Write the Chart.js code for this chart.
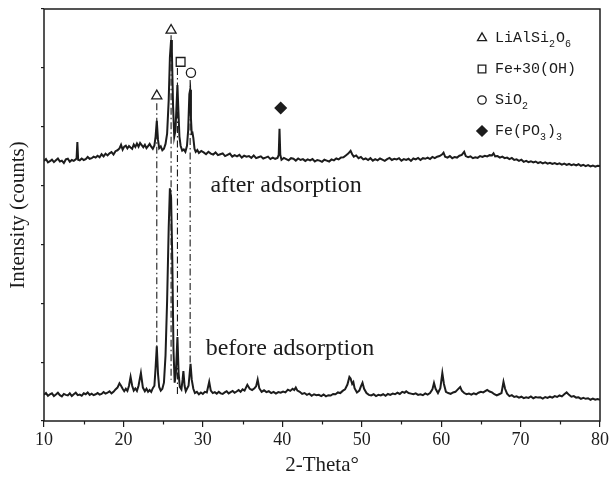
<!DOCTYPE html>
<html>
<head>
<meta charset="utf-8">
<script src="https://cdn.jsdelivr.net/npm/chart.js@4.4.1/dist/chart.umd.min.js"></script>
<style>
  html, body { margin: 0; padding: 0; background: #fff; }
  #wrap { width: 611px; height: 488px; }
</style>
</head>
<body>
<div id="wrap"><canvas id="xrd" width="611" height="488"></canvas></div>
<script>
// 2-theta positions and intensity (after adsorption)
const afterTheta = [
  10.0, 10.25, 10.5, 10.75, 11.0, 11.25, 11.5, 11.75, 12.0, 12.25, 12.5, 12.75, 13.0, 13.25, 13.5, 13.75,
  14.0, 14.1, 14.2, 14.3, 14.5, 14.75, 15.0, 15.25, 15.5, 15.75, 16.0, 16.25, 16.5, 16.75, 17.0, 17.25,
  17.5, 17.75, 18.0, 18.25, 18.5, 18.75, 19.0, 19.25, 19.5, 19.7, 19.9, 20.1, 20.3, 20.5, 20.7, 20.9,
  21.1, 21.3, 21.5, 21.7, 21.9, 22.1, 22.3, 22.5, 22.7, 22.9, 23.1, 23.3, 23.5, 23.7, 23.9, 24.05,
  24.2, 24.35, 24.5, 24.7, 24.9, 25.1, 25.3, 25.5, 25.7, 25.85, 26.0, 26.1, 26.25, 26.4, 26.55, 26.7,
  26.8, 26.9, 27.05, 27.2, 27.4, 27.6, 27.8, 28.0, 28.15, 28.3, 28.4, 28.5, 28.6, 28.7, 28.8, 28.95,
  29.1, 29.3, 29.5, 29.8, 30.1, 30.4, 30.7, 31.0, 31.3, 31.6, 31.9, 32.2, 32.5, 32.8, 33.1, 33.4,
  33.7, 34.0, 34.3, 34.6, 34.9, 35.2, 35.5, 35.8, 36.1, 36.4, 36.7, 37.0, 37.3, 37.6, 37.9, 38.2,
  38.5, 38.8, 39.1, 39.4, 39.55, 39.65, 39.75, 39.9, 40.2, 40.5, 40.8, 41.1, 41.4, 41.7, 42.0, 42.3,
  42.6, 42.9, 43.2, 43.5, 43.8, 44.1, 44.4, 44.7, 45.0, 45.3, 45.6, 45.9, 46.2, 46.5, 46.8, 47.1,
  47.4, 47.7, 48.0, 48.3, 48.6, 48.8, 49.0, 49.3, 49.6, 49.9, 50.2, 50.5, 50.8, 51.1, 51.4, 51.7,
  52.0, 52.3, 52.6, 52.9, 53.2, 53.5, 53.8, 54.1, 54.4, 54.7, 55.0, 55.3, 55.6, 55.9, 56.2, 56.5,
  56.8, 57.1, 57.4, 57.7, 58.0, 58.3, 58.6, 58.9, 59.2, 59.5, 59.8, 60.1, 60.3, 60.5, 60.8, 61.1,
  61.4, 61.7, 62.0, 62.3, 62.6, 62.9, 63.1, 63.4, 63.7, 64.0, 64.3, 64.6, 64.9, 65.2, 65.5, 65.8,
  66.1, 66.4, 66.6, 66.8, 67.1, 67.4, 67.7, 68.0, 68.3, 68.6, 68.9, 69.2, 69.5, 69.8, 70.1, 70.4,
  70.7, 71.0, 71.3, 71.6, 71.9, 72.2, 72.5, 72.8, 73.1, 73.4, 73.7, 74.0, 74.3, 74.6, 74.9, 75.2,
  75.5, 75.8, 76.1, 76.4, 76.7, 77.0, 77.3, 77.6, 77.9, 78.2, 78.5, 78.8, 79.1, 79.4, 79.7, 80.0
];
const afterCounts = [
  4000, 4030, 3975, 3995, 4020, 3980, 4010, 4040, 3990, 4005, 3965, 4025, 4035, 3985, 4015, 4000,
  4025, 4045, 4310, 4020, 4010, 4040, 4015, 4030, 4065, 4035, 4045, 4070, 4055, 4085, 4060, 4110,
  4075, 4120, 4090, 4125, 4145, 4105, 4160, 4175, 4205, 4265, 4185, 4235, 4250, 4205, 4245, 4220,
  4200, 4270, 4230, 4285, 4235, 4295, 4260, 4225, 4265, 4210, 4245, 4280, 4235, 4200, 4255, 4400,
  4660, 4350, 4210, 4240, 4175, 4200, 4280, 4450, 5000, 5700, 5990, 5800, 4900, 4400, 4500, 4950,
  5250, 4900, 4400, 4250, 4170, 4190, 4150, 4250, 4500, 5100, 5170, 4700, 4450, 4460, 4380, 4200,
  4150, 4180, 4130, 4165, 4140, 4110, 4150, 4120, 4105, 4140, 4095, 4110, 4125, 4080, 4100, 4120,
  4070, 4095, 4075, 4100, 4055, 4085, 4070, 4080, 4050, 4090, 4045, 4060, 4075, 4040, 4055, 4070,
  4030, 4055, 4035, 4050, 4100, 4530, 4100, 4020, 4050, 4030, 4010, 4045, 4035, 4005, 4040, 4015,
  4030, 4000, 4025, 4010, 4030, 3990, 4015, 4005, 3985, 4020, 4005, 3990, 4025, 4010, 4040, 4025,
  4055, 4060, 4090, 4120, 4165, 4110, 4070, 4090, 4045, 4065, 4025, 4040, 4015, 4045, 4005, 4030,
  4010, 4040, 4020, 4000, 4030, 4050, 4015, 4035, 4025, 4045, 4005, 4030, 4015, 4035, 4000, 4040,
  4025, 4050, 4015, 4045, 4035, 4055, 4030, 4065, 4045, 4070, 4080, 4105, 4135, 4070, 4055, 4080,
  4045, 4065, 4055, 4085, 4100, 4150, 4080, 4060, 4075, 4045, 4060, 4050, 4080, 4065, 4085, 4075,
  4095, 4090, 4125, 4075, 4080, 4055, 4070, 4045, 4055, 4030, 4050, 4015, 4025, 4000, 4020, 3985,
  4000, 3980, 3995, 3975, 3990, 3965, 3980, 3960, 3975, 3955, 3970, 3950, 3965, 3945, 3960, 3940,
  3955, 3935, 3950, 3930, 3945, 3925, 3945, 3920, 3935, 3915, 3930, 3910, 3925, 3905, 3920, 3915
];

// before adsorption
const beforeTheta = [
  10.0, 10.25, 10.5, 10.75, 11.0, 11.25, 11.5, 11.75, 12.0, 12.25, 12.5, 12.75, 13.0, 13.25, 13.5, 13.75,
  14.0, 14.25, 14.5, 14.75, 15.0, 15.25, 15.5, 15.75, 16.0, 16.25, 16.5, 16.75, 17.0, 17.25, 17.5, 17.75,
  18.0, 18.25, 18.5, 18.75, 19.0, 19.25, 19.5, 19.7, 19.9, 20.1, 20.3, 20.5, 20.7, 20.9, 21.1, 21.3,
  21.5, 21.7, 21.9, 22.2, 22.45, 22.7, 22.9, 23.1, 23.3, 23.5, 23.7, 23.9, 24.05, 24.2, 24.35, 24.5,
  24.7, 24.9, 25.1, 25.3, 25.5, 25.7, 25.85, 26.0, 26.15, 26.3, 26.45, 26.6, 26.8, 26.95, 27.1, 27.3,
  27.45, 27.55, 27.7, 27.85, 28.0, 28.2, 28.45, 28.6, 28.8, 29.0, 29.25, 29.5, 29.75, 30.0, 30.25, 30.5,
  30.8, 31.0, 31.25, 31.5, 31.75, 32.0, 32.25, 32.5, 32.75, 33.0, 33.25, 33.5, 33.75, 34.0, 34.25, 34.5,
  34.75, 35.0, 35.25, 35.6, 35.9, 36.2, 36.5, 36.7, 36.9, 37.1, 37.4, 37.7, 38.0, 38.3, 38.6, 38.9,
  39.2, 39.5, 39.8, 40.1, 40.4, 40.7, 41.0, 41.3, 41.5, 41.7, 41.9, 42.2, 42.5, 42.8, 43.1, 43.4,
  43.7, 44.0, 44.3, 44.6, 44.9, 45.2, 45.5, 45.8, 46.1, 46.4, 46.7, 47.0, 47.3, 47.6, 47.9, 48.2,
  48.45, 48.6, 48.8, 48.95, 49.1, 49.4, 49.7, 49.9, 50.1, 50.3, 50.6, 50.9, 51.2, 51.5, 51.8, 52.1,
  52.4, 52.7, 53.0, 53.3, 53.6, 53.9, 54.2, 54.5, 54.8, 55.1, 55.4, 55.6, 55.9, 56.2, 56.5, 56.8,
  57.1, 57.4, 57.7, 58.0, 58.3, 58.6, 58.9, 59.1, 59.3, 59.6, 59.9, 60.15, 60.35, 60.6, 60.9, 61.2,
  61.5, 61.8, 62.1, 62.4, 62.6, 62.9, 63.2, 63.5, 63.8, 64.1, 64.4, 64.7, 65.0, 65.3, 65.6, 65.8,
  66.1, 66.4, 66.7, 67.0, 67.3, 67.6, 67.85, 68.05, 68.3, 68.6, 68.9, 69.2, 69.5, 69.8, 70.1, 70.4,
  70.7, 71.0, 71.3, 71.6, 71.9, 72.2, 72.5, 72.8, 73.1, 73.4, 73.7, 74.0, 74.3, 74.6, 74.9, 75.2,
  75.5, 75.8, 76.1, 76.4, 76.7, 77.0, 77.3, 77.6, 77.9, 78.2, 78.5, 78.8, 79.1, 79.4, 79.7, 80.0
];
const beforeCounts = [
  150, 180, 135, 160, 175, 130, 155, 185, 145, 125, 165, 150, 140, 175, 130, 160,
  185, 145, 155, 135, 175, 160, 190, 150, 170, 145, 160, 180, 155, 165, 195, 170,
  185, 210, 175, 200, 240, 270, 340, 300, 250, 210, 250, 215, 300, 445, 300, 220,
  255, 215, 300, 510, 270, 210, 250, 200, 230, 200, 260, 300, 600, 950, 500, 280,
  220, 250, 350, 800, 1700, 2900, 3550, 3400, 2400, 900, 350, 500, 1100, 500, 280, 240,
  400, 540, 300, 210, 250, 300, 660, 400, 250, 180, 200, 160, 190, 165, 200, 190,
  365, 220, 180, 195, 170, 200, 175, 165, 190, 210, 175, 195, 215, 185, 205, 230,
  200, 240, 220, 315, 250, 230, 260, 290, 400, 260, 200, 225, 195, 210, 180, 200,
  170, 195, 185, 205, 190, 235, 215, 250, 230, 270, 220, 200, 165, 180, 150, 170,
  135, 160, 145, 150, 130, 155, 125, 145, 140, 165, 160, 190, 180, 215, 240, 320,
  445, 420, 330, 360, 260, 190, 220, 290, 350, 250, 180, 150, 140, 160, 130, 150,
  140, 160, 135, 165, 150, 170, 160, 185, 165, 200, 185, 210, 180, 170, 160, 175,
  150, 160, 145, 175, 155, 180, 240, 345, 250, 180, 260, 510, 330, 200, 180, 165,
  190, 200, 240, 280, 220, 180, 160, 170, 155, 175, 160, 185, 200, 190, 215, 230,
  205, 190, 160, 140, 160, 180, 365, 250, 170, 130, 145, 115, 125, 105, 120, 95,
  110, 100, 125, 95, 115, 105, 110, 90, 115, 100, 120, 105, 130, 115, 140, 125,
  160, 190, 150, 120, 130, 105, 110, 85, 100, 85, 95, 70, 90, 70, 80, 70
];

// dash-dot guide lines: 2-theta, top and bottom intensity
const guideTheta = [24.2, 26.0, 26.8, 28.4];
const guideTop = [4950, 6070, 5530, 5330];
const guideBottom = [940, 400, 115, 670];

// phase markers above the peaks
const markerTheta = [24.2, 26.0, 27.2, 28.5, 39.8];
const markerCounts = [5070, 6150, 5630, 5450, 4870];
const markerKind = [0, 0, 1, 2, 3];

const phaseStyles = ['triangle', 'rect', 'circle', 'rectRot'];
const phaseNames = [
  [['LiAlSi', 0], ['2', 1], ['O', 0], ['6', 1]],
  [['Fe+30(OH)', 0]],
  [['SiO', 0], ['2', 1]],
  [['Fe(PO', 0], ['3', 1], [')', 0], ['3', 1]]
];

const xTicksMinor = [15, 25, 35, 45, 55, 65, 75];

const curveLabels = [
  { text: 'after adsorption', x: 30.95, y: 3590 },
  { text: 'before adsorption', x: 30.35, y: 905 }
];

const INK = '#1c1c1c';
const markerRadius = [5.8, 6.2, 4.6, 5.6];
const legendRadius = [5.2, 5.4, 4.2, 5.2];

const toPoints = (xs, ys) => xs.map((x, i) => ({ x: x, y: ys[i] }));

const datasets = [];
datasets.push({
  label: 'after adsorption',
  data: toPoints(afterTheta, afterCounts),
  borderColor: INK, borderWidth: 2, pointRadius: 0, tension: 0, order: 3
});
datasets.push({
  label: 'before adsorption',
  data: toPoints(beforeTheta, beforeCounts),
  borderColor: INK, borderWidth: 2, pointRadius: 0, tension: 0, order: 3
});
guideTheta.forEach((t, i) => {
  datasets.push({
    label: 'guide' + i,
    data: [{ x: t, y: guideTop[i] }, { x: t, y: guideBottom[i] }],
    borderColor: INK, borderWidth: 1.1, borderDash: [7, 3, 1.5, 3],
    pointRadius: 0, tension: 0, order: 2
  });
});
markerTheta.forEach((t, i) => {
  const k = markerKind[i];
  datasets.push({
    label: 'marker' + i,
    data: [{ x: t, y: markerCounts[i] }],
    showLine: false,
    pointStyle: phaseStyles[k],
    pointRadius: markerRadius[k],
    pointBorderWidth: 1.3,
    pointBorderColor: INK,
    pointBackgroundColor: k === 3 ? INK : '#fff',
    order: 1
  });
});

const decor = {
  id: 'decor',
  afterDraw(chart) {
    const ctx = chart.ctx;
    const a = chart.chartArea;
    const xs = chart.scales.x;
    const ys = chart.scales.y;
    ctx.save();
    // frame
    ctx.strokeStyle = INK;
    ctx.lineWidth = 1.5;
    ctx.strokeRect(a.left, a.top, a.right - a.left, a.bottom - a.top);
    // minor ticks on x
    ctx.lineWidth = 1.2;
    xTicksMinor.forEach(v => {
      const px = Math.round(xs.getPixelForValue(v)) + 0.5;
      ctx.beginPath();
      ctx.moveTo(px, a.bottom);
      ctx.lineTo(px, a.bottom + 3.5);
      ctx.stroke();
    });
    // curve captions
    ctx.fillStyle = INK;
    ctx.font = '24px "Liberation Serif"';
    ctx.textBaseline = 'middle';
    ctx.textAlign = 'left';
    curveLabels.forEach(l => {
      ctx.fillText(l.text, xs.getPixelForValue(l.x), ys.getPixelForValue(l.y));
    });
    // legend
    const lx = 482, tx = 495;
    phaseNames.forEach((parts, i) => {
      const ly = 38 + i * 31;
      ctx.strokeStyle = INK;
      ctx.fillStyle = i === 3 ? INK : '#fff';
      ctx.lineWidth = 1.3;
      Chart.helpers.drawPoint(ctx, {
        pointStyle: phaseStyles[i], rotation: 0,
        radius: legendRadius[i], borderWidth: 1.3
      }, lx, ly);
      ctx.fillStyle = INK;
      let x = tx;
      parts.forEach(([s, sub]) => {
        ctx.font = sub ? '10px "Liberation Mono"' : '15px "Liberation Mono"';
        ctx.fillText(s, x, sub ? ly + 6 : ly);
        x += ctx.measureText(s).width + (sub ? 1 : 0);
      });
    });
    ctx.restore();
  }
};

new Chart(document.getElementById('xrd'), {
  type: 'line',
  data: { datasets: datasets },
  plugins: [decor],
  options: {
    responsive: false,
    animation: false,
    events: [],
    layout: { padding: { top: 9, right: 11, left: 0, bottom: 0 } },
    plugins: { legend: { display: false }, tooltip: { enabled: false } },
    scales: {
      x: {
        type: 'linear', min: 10, max: 80,
        border: { display: false },
        grid: { display: true, drawOnChartArea: false, drawTicks: true, tickLength: 6, color: INK, lineWidth: 1.2 },
        ticks: { stepSize: 10, padding: 2, color: INK, font: { family: 'Liberation Serif', size: 18 } },
        title: { display: true, text: '2-Theta°', color: INK, padding: { top: 0, bottom: 10 },
                 font: { family: 'Liberation Serif', size: 21 } },
        afterFit: s => { s.height = 67; }
      },
      y: {
        type: 'linear', min: -280, max: 6500,
        border: { display: false },
        grid: { display: true, drawOnChartArea: false, drawTicks: true, tickLength: 3, color: INK, lineWidth: 1.2 },
        ticks: { stepSize: 1000, includeBounds: false, display: false },
        title: { display: true, text: 'Intensity (counts)', color: INK, padding: { top: 6, bottom: 0 },
                 font: { family: 'Liberation Serif', size: 21 } },
        afterFit: s => { s.width = 44; }
      }
    }
  }
});
</script>
</body>
</html>
